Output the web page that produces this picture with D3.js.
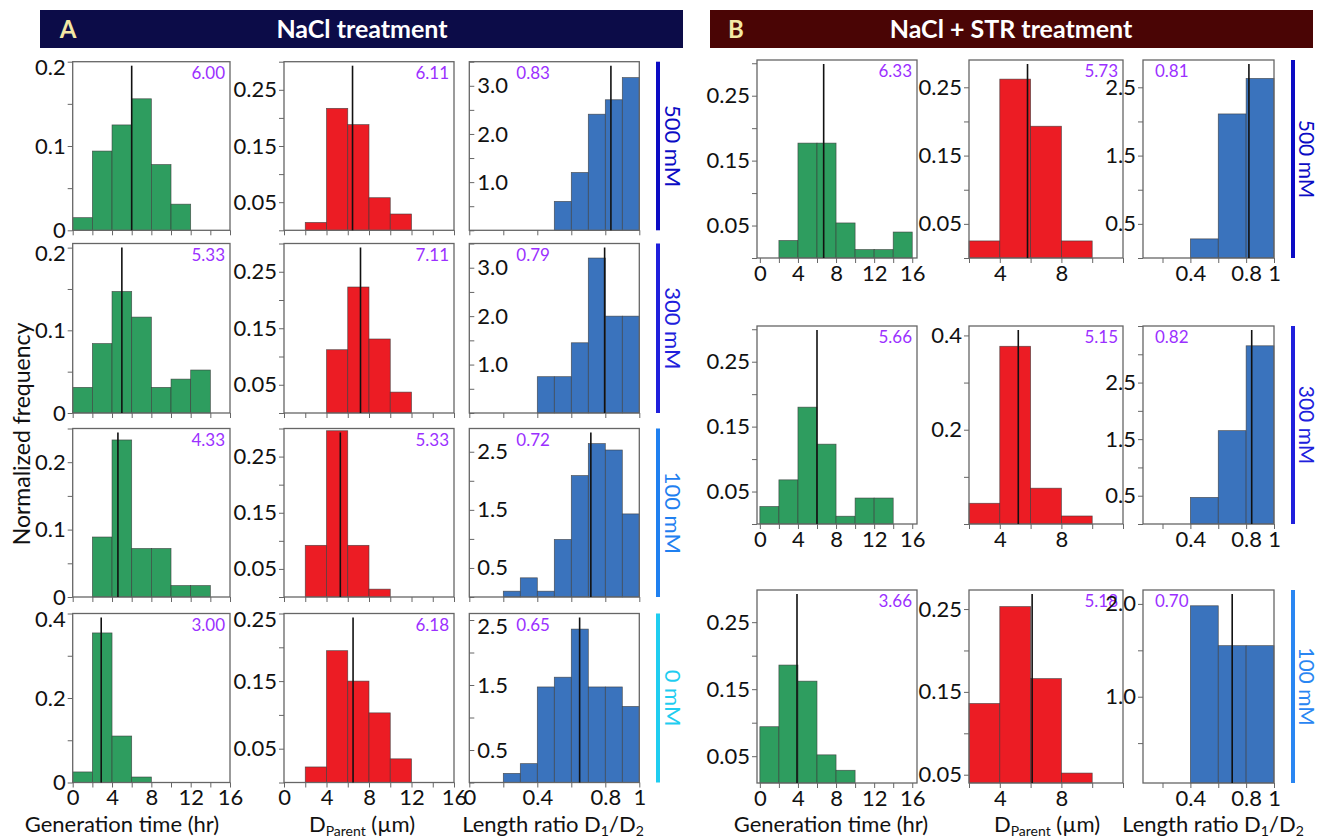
<!DOCTYPE html>
<html><head><meta charset="utf-8">
<script src="https://cdn.jsdelivr.net/npm/d3@7"></script>
<style>body{margin:0;background:#fff} text{font-family:Lato,"Liberation Sans",sans-serif}</style>
</head><body><svg id="c" width="1320" height="839"></svg>
<script>
// ---------------- DATA ----------------
const panelTitles = ["NaCl treatment", "NaCl + STR treatment"];
const panelLetters = ["A", "B"];
const concA = ["500 mM", "300 mM", "100 mM", "0 mM"];
const concB = ["500 mM", "300 mM", "100 mM"];
const axisTitles = ["Generation time (hr)", "D|Parent| (\u00b5m)", "Length ratio D|1|/D|2|"];
const yTitle = "Normalized frequency";

// bin heights (normalized frequency); generation time & D_parent bins of width 2 from 0
const genTimeA = [
  [0.015, 0.094, 0.125, 0.156, 0.078, 0.031],
  [0.031, 0.084, 0.147, 0.116, 0.031, 0.041, 0.052],
  [0, 0.089, 0.233, 0.072, 0.072, 0.017, 0.017],
  [0.025, 0.354, 0.110, 0.013]
];
const dParentA = [
  [0, 0.014, 0.217, 0.188, 0.058, 0.029],
  [0, 0, 0.112, 0.223, 0.131, 0.037],
  [0, 0.092, 0.296, 0.092, 0.014],
  [0, 0.023, 0.195, 0.150, 0.103, 0.035]
];
// length ratio bins of width 0.1 from 0
const ratioA = [
  [0, 0, 0, 0, 0, 0.60, 1.20, 2.41, 2.71, 3.17],
  [0, 0, 0, 0, 0.75, 0.75, 1.45, 3.2, 2.0, 2.0],
  [0, 0, 0.10, 0.33, 0.10, 0.99, 2.09, 2.64, 2.53, 1.43],
  [0, 0, 0.14, 0.29, 1.47, 1.62, 2.36, 1.47, 1.47, 1.17]
];
const meanLineA = [[6.0, 6.45, 0.833], [5.0, 7.2, 0.796], [4.6, 5.3, 0.715], [2.9, 6.5, 0.649]];
const meanTextA = [["6.00", "6.11", "0.83"], ["5.33", "7.11", "0.79"], ["4.33", "5.33", "0.72"], ["3.00", "6.18", "0.65"]];

const genTimeB = [
  [0, 0.027, 0.177, 0.177, 0.054, 0.013, 0.013, 0.040],
  [0.027, 0.068, 0.180, 0.123, 0.012, 0.040, 0.040],
  [0.094, 0.186, 0.162, 0.052, 0.029]
];
const dParentB = [
  [0, 0.025, 0.262, 0.193, 0.025],
  [0, 0.044, 0.377, 0.076, 0.017],
  [0, 0.136, 0.253, 0.166, 0.052]
];
// length ratio bins of width 0.2 from 0
const ratioB = [
  [0, 0, 0.28, 2.11, 2.63],
  [0, 0, 0.47, 1.65, 3.15],
  [0, 0, 1.98, 1.55, 1.55]
];
const meanLineB = [[6.7, 5.8, 0.82], [6.0, 5.2, 0.84], [3.9, 6.1, 0.70]];
const meanTextB = [["6.33", "5.73", "0.81"], ["5.66", "5.15", "0.82"], ["3.66", "5.18", "0.70"]];

// y tick labels and y ranges
const yMajorA = [
  [[0, 0.1, 0.2], [0.05, 0.15, 0.25], [1, 2, 3]],
  [[0, 0.1, 0.2], [0.05, 0.15, 0.25], [1, 2, 3]],
  [[0, 0.1, 0.2], [0.05, 0.15, 0.25], [0.5, 1.5, 2.5]],
  [[0, 0.2, 0.4], [0.05, 0.15, 0.25], [0.5, 1.5, 2.5]]
];
const yRangeA = [
  [[0, 0.2], [0, 0.3], [0, 3.5]],
  [[0, 0.205], [0, 0.3], [0, 3.5]],
  [[0, 0.25], [0, 0.3], [0, 2.9]],
  [[0, 0.4], [0, 0.25], [0, 2.6]]
];
const yMajorB = [
  [[0.05, 0.15, 0.25], [0.05, 0.15, 0.25], [0.5, 1.5, 2.5]],
  [[0.05, 0.15, 0.25], [0.2, 0.4], [0.5, 1.5, 2.5]],
  [[0.05, 0.15, 0.25], [0.05, 0.15, 0.25], [1, 2]]
];
const yRangeB = [
  [[0, 0.305], [0, 0.29], [0, 2.9]],
  [[0, 0.305], [0, 0.42], [0, 3.5]],
  [[0.01, 0.298], [0.04, 0.273], [0.07, 2.15]]
];
// x tick labels
const xLabelsGen = [0, 4, 8, 12, 16];
const xLabelsDpA = [0, 4, 8, 12, 16];
const xLabelsDpB = [4, 8];
const xLabelsRatioA = [0, 0.4, 0.8, 1];
const xLabelsRatioB = [0.4, 0.8, 1];

// ---------------- STYLE / LAYOUT ----------------
const colors = ["#2e9d5f", "#ec1c24", "#3a73bd"];
const concColorsA = ["#0b0bc4", "#2020dc", "#1f80f0", "#1fcdf0"];
const concColorsB = ["#0b0bc4", "#2020dc", "#2a86f2"];
const purple = "#9b30ff";
const svg = d3.select("#c");

const layout = {
  A: {cols: [[72.7, 230], [284, 454], [469.3, 639.3]],
      rows: [[61.7, 230.3], [243.5, 413], [428.5, 597], [613.5, 782.5]],
      xdom: [[0, 16], [0, 16], [0, 1]], ratioInside: true, labelRows: [3], bar: 658, conc: 665,
      titleX: [122, 362, 553], labelLeft: 47, concSize: 22},
  B: {cols: [[757, 917], [969, 1123], [1143, 1274]],
      rows: [[60, 258], [326, 524], [590, 783]],
      xdom: [[-0.3, 16.5], [2, 12], [0.06, 1]], ratioInside: false, labelRows: [0, 1, 2], bar: 1293, conc: 1299,
      titleX: [831, 1047, 1213], labelLeft: 12, concSize: 21}
};

function fmtY(col, v) {
  if (col === 2) return d3.format(".1f")(v);
  if (v === 0) return "0";
  return Math.abs(v * 10 - Math.round(v * 10)) < 1e-9 ? d3.format(".1f")(v) : d3.format(".2f")(v);
}
function fmtX(v) { return String(v); }

function drawHist(cfg) {
  const {x0, x1, y0, y1, xdom, yr, values, binW, mean, label, color, col, major, step,
         inside, xLabels, showX, labelLeft, xTickStep} = cfg;
  const g = svg.append("g");
  const x = d3.scaleLinear().domain(xdom).range([x0, x1]);
  const y = d3.scaleLinear().domain(yr).range([y1, y0]);
  // bars
  const bins = values.map((v, i) => ({a: i * binW, b: (i + 1) * binW, v})).filter(d => d.v > 0);
  g.selectAll("rect.bar").data(bins).join("rect")
    .attr("x", d => x(d.a)).attr("width", d => x(d.b) - x(d.a))
    .attr("y", d => y(d.v)).attr("height", d => y(yr[0]) - y(d.v))
    .attr("fill", color).attr("stroke", "#3a3a3a").attr("stroke-width", 0.7).attr("stroke-opacity", 0.8);
  // frame
  g.append("rect").attr("x", x0).attr("y", y0).attr("width", x1 - x0).attr("height", y1 - y0)
    .attr("fill", "none").attr("stroke", "#666").attr("stroke-width", 1.3);
  // mean line
  g.append("line").attr("x1", x(mean)).attr("x2", x(mean)).attr("y1", y1).attr("y2", y0 + 4)
    .attr("stroke", "#111").attr("stroke-width", 1.6);
  // y axis
  const all = d3.range(Math.ceil(yr[0] / step - 1e-9) * step, yr[1] + 1e-9, step).map(d => +d.toFixed(3));
  const isMajor = d => major.some(m => Math.abs(m - d) < 1e-6);
  const ax = (inside ? d3.axisRight(y) : d3.axisLeft(y)).tickValues(all).tickSize(5).tickPadding(inside ? 3 : 2)
    .tickFormat(d => isMajor(d) ? fmtY(col, d) : "");
  const ya = g.append("g").attr("transform", `translate(${x0},0)`).call(ax);
  ya.select(".domain").remove();
  ya.selectAll("line").attr("stroke", "#666");
  ya.selectAll("text").attr("font-size", 22).attr("fill", "#111")
    .attr("transform", d => (y(d) - y0 < 9 ? "translate(0,6)" : null));
  // x axis
  const xt = d3.range(Math.ceil(xdom[0] / xTickStep - 1e-9) * xTickStep, xdom[1] + 1e-9, xTickStep).map(d => +d.toFixed(3));
  const xa = g.append("g").attr("transform", `translate(0,${y1})`)
    .call(d3.axisBottom(x).tickValues(xt).tickSize(5).tickPadding(2)
      .tickFormat(d => showX && xLabels.some(m => Math.abs(m - d) < 1e-6) ? fmtX(d) : ""));
  xa.select(".domain").remove();
  xa.selectAll("line").attr("stroke", "#666");
  xa.selectAll("text").attr("font-size", 22).attr("fill", "#111");
  // mean label
  const t = g.append("text").attr("font-size", 17).attr("fill", purple).attr("y", y0 + 17).text(label);
  if (labelLeft === null) t.attr("x", x1 - 5).attr("text-anchor", "end");
  else t.attr("x", x0 + labelLeft);
}

function drawSubTitle(text, cx, cy) {
  const parts = text.split("|");
  const t = svg.append("text").attr("x", cx).attr("y", cy).attr("text-anchor", "middle")
    .attr("font-size", 22).attr("fill", "#111");
  parts.forEach((p, i) => {
    const sp = t.append("tspan").text(p);
    if (i % 2 === 1) sp.attr("font-size", 14).attr("dy", 4);
    else if (i > 0) sp.attr("dy", -4);
  });
}

function drawPanel(key, gens, dps, ratios, meanL, meanT, yMaj, yRange, concs, concCols) {
  const L = layout[key];
  const dataCols = [gens, dps, ratios];
  L.rows.forEach((r, ri) => {
    L.cols.forEach((c, ci) => {
      const ratio = ci === 2;
      const yr = yRange[ri][ci];
      const step = ratio ? 0.5 : (yr[1] >= 0.35 ? 0.1 : 0.05);
      drawHist({
        x0: c[0], x1: c[1], y0: r[0], y1: r[1], xdom: L.xdom[ci], yr,
        values: dataCols[ci][ri], binW: ratio ? (key === "A" ? 0.1 : 0.2) : 2,
        mean: meanL[ri][ci], label: meanT[ri][ci], color: colors[ci], col: ci,
        major: yMaj[ri][ci], step, inside: ratio && L.ratioInside,
        xLabels: ci === 0 ? xLabelsGen : (ci === 1 ? (key === "A" ? xLabelsDpA : xLabelsDpB) : (key === "A" ? xLabelsRatioA : xLabelsRatioB)),
        showX: L.labelRows.includes(ri), xTickStep: ratio ? 0.2 : 2,
        labelLeft: ratio ? L.labelLeft : null
      });
    });
    // concentration bar
    svg.append("rect").attr("x", L.bar - 2).attr("y", r[0]).attr("width", 4).attr("height", r[1] - r[0])
      .attr("fill", concCols[ri]);
    const cy = (r[0] + r[1]) / 2;
    svg.append("text").attr("transform", `translate(${L.conc},${cy}) rotate(90)`)
      .attr("text-anchor", "middle").attr("font-size", L.concSize).attr("fill", concCols[ri]).text(concs[ri]);
  });
  axisTitles.forEach((tt, i) => drawSubTitle(tt, L.titleX[i], 832));
}

// headers
const headers = [{x0: 40, x1: 683, fill: "#0c0c48", lx: 68, tx: 362}, {x0: 710, x1: 1313, fill: "#4a0505", lx: 736, tx: 1011}];
headers.forEach((h, i) => {
  svg.append("rect").attr("x", h.x0).attr("y", 10).attr("width", h.x1 - h.x0).attr("height", 38).attr("fill", h.fill);
  svg.append("text").attr("x", h.lx).attr("y", 38).attr("text-anchor", "middle").attr("font-size", 24)
    .attr("font-weight", "bold").attr("fill", "#f3e8a4").text(panelLetters[i]);
  svg.append("text").attr("x", h.tx).attr("y", 38).attr("text-anchor", "middle").attr("font-size", 25)
    .attr("font-weight", "bold").attr("fill", "#fff").text(panelTitles[i]);
});

drawPanel("A", genTimeA, dParentA, ratioA, meanLineA, meanTextA, yMajorA, yRangeA, concA, concColorsA);
drawPanel("B", genTimeB, dParentB, ratioB, meanLineB, meanTextB, yMajorB, yRangeB, concB, concColorsB);

svg.append("text").attr("transform", "translate(30,434) rotate(-90)").attr("text-anchor", "middle")
  .attr("font-size", 23).attr("fill", "#111").text(yTitle);
</script></body></html>
